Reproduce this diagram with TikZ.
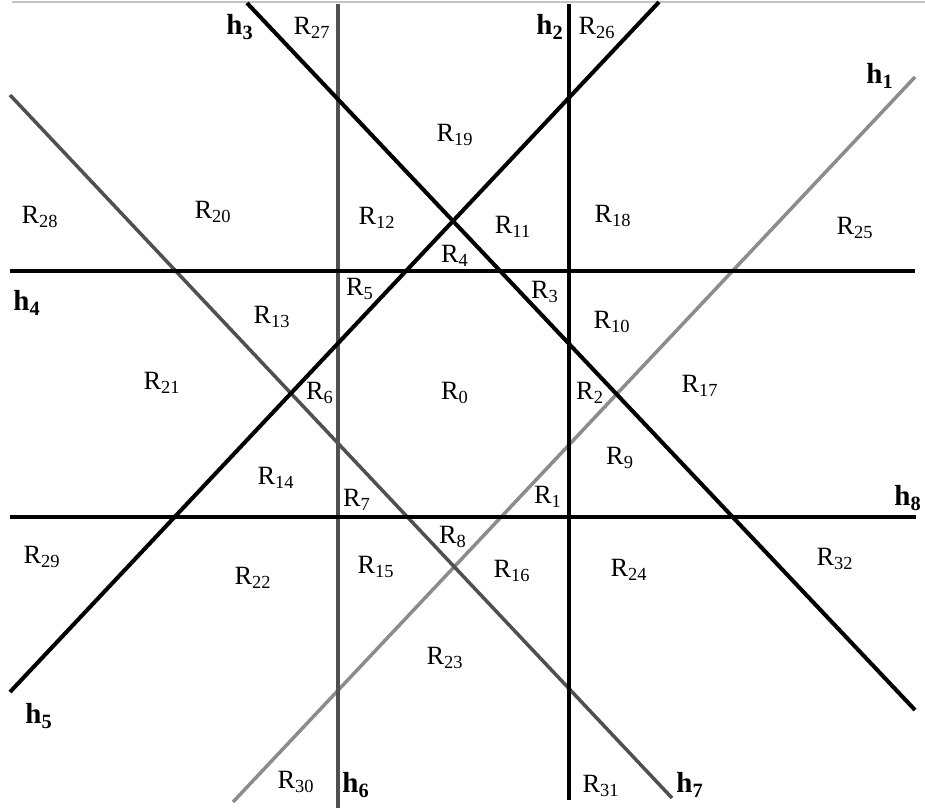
\documentclass[tikz,border=0pt]{standalone}
\usepackage{fontspec}
\setmainfont{Liberation Serif}
\usepackage{xcolor}
\usepackage{tikz}
\usetikzlibrary{positioning,calc}
\definecolor{cinzaEscuro}{HTML}{505050}
\definecolor{cinzaClaro}{HTML}{8C8C8C}
\definecolor{cinzaBorda}{HTML}{C4C4C4}
\tikzset{
    reta/.style={
        draw=black,
        line width=2.3pt
    },
    retaEscura/.style={reta, draw=cinzaEscuro, line width=2pt},
    retaClara/.style={reta, draw=cinzaClaro, line width=2pt},
    borda/.style={draw=cinzaBorda, line width=0.6pt},
    regiao/.style={inner sep=0pt, font=\fontsize{15}{18}\selectfont},
    rotulo/.style={inner sep=0pt, font=\fontsize{16.5}{19}\selectfont\bfseries}
}
\newcommand{\reg}[1]{R\textsubscript{#1}}
\newcommand{\hip}[1]{h\textsubscript{#1}}

\begin{document}
\begin{tikzpicture}[x=0.02cm, y=-0.02cm]
        \useasboundingbox (0,0) rectangle (925,808);

        % extremos das retas
        \coordinate (bordaA) at (12,2);
        \coordinate (bordaB) at (925,2);
        \coordinate (h1a) at (915,77);
        \coordinate (h1b) at (233,802);
        \coordinate (h2a) at (569,4);
        \coordinate (h2b) at (569,800);
        \coordinate (h3a) at (247,3);
        \coordinate (h3b) at (915,710);
        \coordinate (h4a) at (10,271);
        \coordinate (h4b) at (915,271);
        \coordinate (h5a) at (10,692);
        \coordinate (h5b) at (659,2);
        \coordinate (h6a) at (338,4);
        \coordinate (h6b) at (338,808);
        \coordinate (h7a) at (10,95);
        \coordinate (h7b) at (672,798);
        \coordinate (h8a) at (10,517);
        \coordinate (h8b) at (916,517);

        \draw[borda] (bordaA) -- (bordaB);
        \draw[retaClara] (h1a) -- (h1b);
        \draw[retaEscura] (h6a) -- (h6b);
        \draw[retaEscura] (h7a) -- (h7b);
        \draw[reta] (h2a) -- (h2b);
        \draw[reta] (h3a) -- (h3b);
        \draw[reta] (h4a) -- (h4b);
        \draw[reta] (h5a) -- (h5b);
        \draw[reta] (h8a) -- (h8b);

        % nomes das retas
        \node[rotulo] (n1) at (880,76) {\hip{1}};
        \node[rotulo] (n2) at (550,27) {\hip{2}};
        \node[rotulo] (n3) at (240,27) {\hip{3}};
        \node[rotulo] (n4) at (27,303) {\hip{4}};
        \node[rotulo] (n5) at (39,716) {\hip{5}};
        \node[rotulo] (n6) at (356,785) {\hip{6}};
        \node[rotulo] (n7) at (690,785) {\hip{7}};
        \node[rotulo] (n8) at (908,498) {\hip{8}};

        % regioes
        \node[regiao] (r0) at (455,393) {\reg{0}};
        \node[regiao] (r1) at (548,497) {\reg{1}};
        \node[regiao] (r2) at (590,393) {\reg{2}};
        \node[regiao] (r3) at (545,292) {\reg{3}};
        \node[regiao] (r4) at (455,256) {\reg{4}};
        \node[regiao] (r5) at (360,289) {\reg{5}};
        \node[regiao] (r6) at (320,393) {\reg{6}};
        \node[regiao] (r7) at (357,500) {\reg{7}};
        \node[regiao] (r8) at (453,537) {\reg{8}};
        \node[regiao] (r9) at (620,458) {\reg{9}};
        \node[regiao] (r10) at (612,322) {\reg{10}};
        \node[regiao] (r11) at (513,227) {\reg{11}};
        \node[regiao] (r12) at (377,218) {\reg{12}};
        \node[regiao] (r13) at (272,317) {\reg{13}};
        \node[regiao] (r14) at (276,478) {\reg{14}};
        \node[regiao] (r15) at (376,567) {\reg{15}};
        \node[regiao] (r16) at (512,571) {\reg{16}};
        \node[regiao] (r17) at (700,386) {\reg{17}};
        \node[regiao] (r18) at (613,216) {\reg{18}};
        \node[regiao] (r19) at (455,135) {\reg{19}};
        \node[regiao] (r20) at (213,212) {\reg{20}};
        \node[regiao] (r21) at (162,383) {\reg{21}};
        \node[regiao] (r22) at (253,578) {\reg{22}};
        \node[regiao] (r23) at (445,658) {\reg{23}};
        \node[regiao] (r24) at (629,570) {\reg{24}};
        \node[regiao] (r25) at (855,228) {\reg{25}};
        \node[regiao] (r26) at (597,28) {\reg{26}};
        \node[regiao] (r27) at (312,28) {\reg{27}};
        \node[regiao] (r28) at (40,217) {\reg{28}};
        \node[regiao] (r29) at (42,557) {\reg{29}};
        \node[regiao] (r30) at (296,782) {\reg{30}};
        \node[regiao] (r31) at (601,786) {\reg{31}};
        \node[regiao] (r32) at (835,559) {\reg{32}};
    \end{tikzpicture}
\end{document}
